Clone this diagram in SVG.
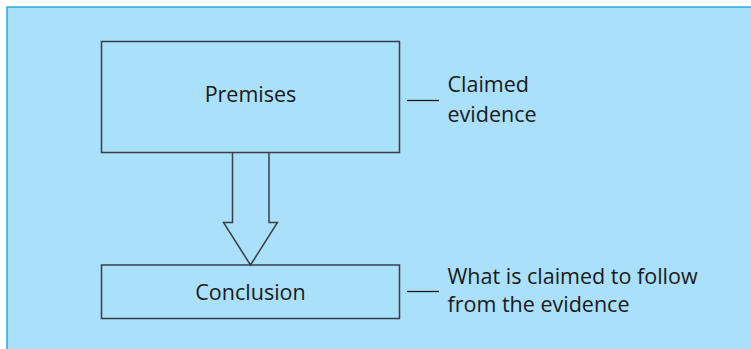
<svg xmlns="http://www.w3.org/2000/svg" width="751" height="349" viewBox="0 0 751 349">
<style>
.box{fill:none;stroke:#3a3f45;stroke-width:1.5}
.lbl{font-family:"Open Sans","Liberation Sans",sans-serif;font-size:21.5px;fill:#1a1a1a}
.ln{stroke:#1a1a1a;stroke-width:1.3;fill:none}
</style>
<rect x="0" y="0" width="751" height="349" fill="#ffffff"/>
<rect x="7" y="7" width="760" height="360" fill="#aae0fa" stroke="#2aa9e0" stroke-width="1.5"/>
<g id="premises">
<rect class="box" x="101.5" y="41.5" width="298" height="111"/>
<text class="lbl" x="250.5" y="102" text-anchor="middle">Premises</text>
</g>
<g id="conclusion">
<rect class="box" x="101.5" y="265" width="298" height="53.5"/>
<text class="lbl" x="250.5" y="300" text-anchor="middle">Conclusion</text>
</g>
<g id="premises-note">
<line class="ln" x1="407" y1="100.5" x2="439" y2="100.5"/>
<text class="lbl" x="447.5" y="92">Claimed</text>
<text class="lbl" x="447.5" y="121.5">evidence</text>
</g>
<g id="conclusion-note">
<line class="ln" x1="407" y1="291.5" x2="439" y2="291.5"/>
<text class="lbl" x="447.5" y="284">What is claimed to follow</text>
<text class="lbl" x="447.5" y="312">from the evidence</text>
</g>
<g id="connectors">
<path class="box" d="M232.5,152.5 V222.5 H223.5 L250.5,265 L277.5,222.5 H269 V152.5"/>
</g>
</svg>
